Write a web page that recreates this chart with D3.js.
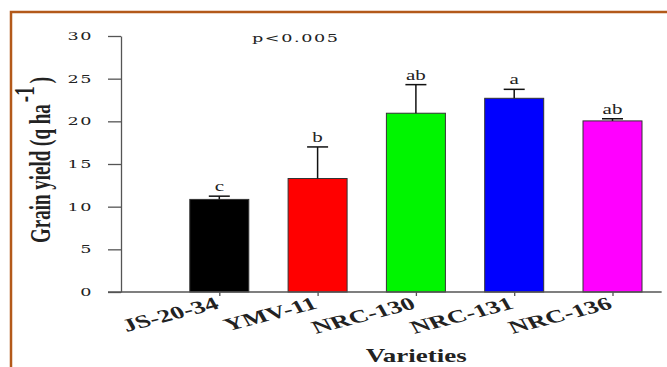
<!DOCTYPE html>
<html>
  <head>
    <title>Grain yield by variety</title>
    <meta charset="utf-8">
    <script src="https://d3js.org/d3.v7.min.js"></script>
    <style>
      body { margin: 0; background: #fff; }
      svg { display: block; }
    </style>
  </head>
  <body>
    <div class="chart"></div>
    <script>

    // data
    var varieties = ["JS-20-34", "YMV-11", "NRC-130", "NRC-131", "NRC-136"];
    var yieldMean = [10.85, 13.3, 20.95, 22.7, 20.05];
    var yieldErr  = [0.38, 3.7, 3.35, 1.05, 0.25];
    var letters   = ["c", "b", "ab", "a", "ab"];
    var yTicks    = [0, 5, 10, 15, 20, 25, 30];

    var barColors = ["#000000", "#ff0000", "#00f500", "#0000ff", "#ff00ff"];

    var width = 667, height = 367;
    var stretch = 1.5; // the figure's text is drawn wide

    var svg = d3.select(".chart").append("svg")
      .attr("width", width).attr("height", height);

    // frame
    svg.append("rect")
      .attr("x", 11).attr("y", 12)
      .attr("width", 700).attr("height", 400)
      .attr("fill", "none")
      .attr("stroke", "#b3591a")
      .attr("stroke-width", 2.5);

    // first slot is empty, it sits on the y axis
    var x = d3.scalePoint().domain([""].concat(varieties)).range([121, 612.5]);
    var y = d3.scaleLinear().domain([0, 30]).range([292, 36]);
    var barW = 59;

    var data = varieties.map(function(v, i) {
      return { name: v, mean: yieldMean[i], err: yieldErr[i], letter: letters[i], color: barColors[i] };
    });

    // bars
    svg.selectAll(".bar")
      .data(data)
      .enter()
      .append("rect")
      .attr("class", "bar")
      .attr("x", function(d) { return x(d.name) - barW / 2; })
      .attr("width", barW)
      .attr("y", function(d) { return y(d.mean); })
      .attr("height", function(d) { return y(0) - y(d.mean); })
      .attr("fill", function(d) { return d.color; })
      .attr("stroke", "#333")
      .attr("stroke-width", 1);

    // error bars (upper only)
    var eb = svg.selectAll(".err").data(data).enter().append("g").attr("class", "err")
      .attr("stroke", "#111").attr("stroke-width", 1.5);
    eb.append("line")
      .attr("x1", function(d) { return x(d.name); })
      .attr("x2", function(d) { return x(d.name); })
      .attr("y1", function(d) { return y(d.mean); })
      .attr("y2", function(d) { return y(d.mean + d.err); });
    eb.append("line")
      .attr("x1", function(d) { return x(d.name) - 10.5; })
      .attr("x2", function(d) { return x(d.name) + 10.5; })
      .attr("y1", function(d) { return y(d.mean + d.err); })
      .attr("y2", function(d) { return y(d.mean + d.err); });

    // significance letters
    svg.selectAll(".letter")
      .data(data)
      .enter()
      .append("text")
      .attr("class", "letter")
      .attr("transform", function(d) {
        return "translate(" + x(d.name) + "," + (y(d.mean + d.err) - 5) + ") scale(" + stretch + ",1)";
      })
      .attr("text-anchor", "middle")
      .attr("font-family", "Liberation Serif, serif")
      .attr("font-size", "14px")
      .attr("fill", "#222")
      .text(function(d) { return d.letter; });

    // y axis
    var yAxis = svg.append("g")
      .attr("transform", "translate(" + x.range()[0] + ",0)")
      .call(d3.axisLeft(y).tickValues(yTicks).tickSize(13).tickSizeOuter(0));
    yAxis.select(".domain").attr("stroke", "#555").attr("stroke-width", 1.3);
    yAxis.selectAll(".tick line").attr("stroke", "#555").attr("stroke-width", 1.3);
    yAxis.selectAll(".tick text")
      .attr("x", 0)
      .attr("transform", "translate(-28,0) scale(1.6,1)")
      .attr("font-family", "DejaVu Serif, serif")
      .attr("font-size", "11px")
      .attr("letter-spacing", "1px")
      .attr("fill", "#222");

    // x axis baseline, runs from the 0 tick out to the last slot
    svg.append("line")
      .attr("x1", x.range()[0] - 13)
      .attr("x2", x.range()[1] + x.step() / 2)
      .attr("y1", y(0)).attr("y2", y(0))
      .attr("stroke", "#555").attr("stroke-width", 1.3);

    var xAxis = svg.append("g")
      .attr("transform", "translate(0," + y(0) + ")")
      .call(d3.axisBottom(x).tickValues(varieties).tickSize(4).tickSizeOuter(0).tickFormat(""));
    xAxis.select(".domain").remove();
    xAxis.selectAll(".tick line").attr("stroke", "#555").attr("stroke-width", 1.3);

    // slanted variety labels
    svg.selectAll(".xlab")
      .data(varieties)
      .enter()
      .append("text")
      .attr("class", "xlab")
      .attr("transform", function(d) {
        return "translate(" + (x(d) + 1) + "," + (y(0) + 16) + ") scale(" + stretch + ",1) rotate(-21)";
      })
      .attr("text-anchor", "end")
      .attr("font-family", "Liberation Serif, serif")
      .attr("font-weight", "bold")
      .attr("font-size", "18px")
      .attr("fill", "#222")
      .text(function(d) { return d; });

    // axis titles
    svg.append("text")
      .attr("transform", "translate(" + ((x.range()[0] + x.range()[1] + x.step() / 2) / 2 + 25) + ",362) scale(" + stretch + ",1)")
      .attr("text-anchor", "middle")
      .attr("font-family", "Liberation Serif, serif")
      .attr("font-weight", "bold")
      .attr("font-size", "18px")
      .attr("fill", "#222")
      .text("Varieties");

    var yt = svg.append("text")
      .attr("transform", "translate(50,243) scale(" + stretch + ",1) rotate(-90)")
      .attr("font-family", "Liberation Serif, serif")
      .attr("font-weight", "bold")
      .attr("font-size", "19px")
      .attr("fill", "#222");
    yt.append("tspan").text("Grain yield (q ha");
    yt.append("tspan").attr("dy", -11).attr("dx", 2).text("-1");
    yt.append("tspan").attr("dy", 11).attr("dx", 3).text(")");

    // p value note
    svg.append("text")
      .attr("transform", "translate(252,42) scale(1.6,1)")
      .attr("font-family", "DejaVu Serif, serif")
      .attr("font-size", "11px")
      .attr("letter-spacing", "1px")
      .attr("fill", "#222")
      .text("p<0.005");

    </script>
  </body>
</html>
